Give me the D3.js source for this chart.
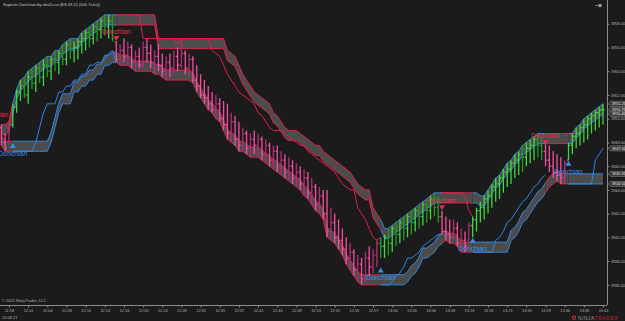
<!DOCTYPE html>
<html>
<head>
<meta charset="utf-8">
<script src="https://cdn.jsdelivr.net/npm/d3@7"></script>
<style>
  body { margin: 0; background: #1b1b1b; }
  svg { display: block; font-family: Arial, "Liberation Sans", sans-serif; }
</style>
</head>
<body>
<svg id="chart"></svg>
<script>
// ES 09-21, 500 tick bars
const open = [
  3949.25, 3948.00, 3948.00, 3949.50, 3951.00, 3952.25, 3952.75, 3952.00, 3953.50, 3953.00,
  3954.25, 3953.50, 3954.50, 3954.00, 3955.00, 3954.75, 3955.50, 3955.00, 3956.25, 3955.75,
  3956.00, 3956.50, 3956.75, 3957.25, 3956.75, 3957.75, 3957.50, 3958.25, 3957.75, 3958.25,
  3956.50, 3955.00, 3955.75, 3955.25, 3956.00, 3954.75, 3955.25, 3954.50, 3956.00, 3955.50,
  3954.75, 3955.25, 3954.50, 3954.00, 3954.75, 3954.25, 3955.25, 3954.50, 3955.50, 3954.25,
  3955.00, 3953.25, 3952.75, 3952.00, 3951.75, 3951.25, 3950.75, 3951.25, 3950.00, 3949.50,
  3948.75, 3949.75, 3948.25, 3947.75, 3948.75, 3947.50, 3948.25, 3947.75, 3948.25, 3947.00,
  3947.75, 3946.50, 3947.25, 3946.00, 3946.50, 3945.50, 3946.00, 3945.00, 3945.50, 3944.50,
  3945.00, 3943.75, 3944.25, 3942.75, 3943.50, 3942.00, 3940.50, 3941.25, 3940.00, 3939.75,
  3939.00, 3938.25, 3938.75, 3937.25, 3937.75, 3936.50, 3938.25, 3937.50, 3938.50, 3939.50,
  3939.25, 3940.00, 3939.50, 3940.75, 3940.25, 3941.25, 3940.75, 3941.75, 3941.25, 3942.25,
  3941.75, 3942.75, 3942.25, 3943.25, 3942.50, 3941.75, 3940.50, 3940.25, 3940.00, 3940.75,
  3939.50, 3939.75, 3939.75, 3941.00, 3941.50, 3942.25, 3942.50, 3943.25, 3943.50, 3944.25,
  3944.50, 3945.00, 3945.50, 3945.75, 3946.25, 3946.50, 3947.00, 3946.75, 3947.50, 3947.75,
  3948.25, 3947.75, 3947.25, 3946.50, 3946.00, 3945.50, 3945.25, 3945.00, 3946.50, 3947.75,
  3948.50, 3948.75, 3949.25, 3949.50, 3950.00, 3950.25, 3950.50, 3950.75
]
const high = [
  3949.50, 3948.75, 3949.75, 3951.25, 3952.50, 3953.25, 3953.50, 3954.00, 3954.25, 3954.50,
  3954.75, 3955.00, 3955.25, 3955.25, 3955.75, 3955.75, 3956.25, 3956.50, 3956.75, 3956.50,
  3956.75, 3957.25, 3957.50, 3957.75, 3958.00, 3958.25, 3958.50, 3958.75, 3958.75, 3958.75,
  3956.50, 3956.25, 3956.75, 3956.50, 3956.25, 3955.75, 3956.00, 3956.50, 3956.75, 3956.25,
  3955.75, 3956.25, 3955.50, 3955.25, 3955.50, 3955.75, 3956.00, 3956.75, 3955.75, 3955.50,
  3955.25, 3954.50, 3953.75, 3953.25, 3952.75, 3952.25, 3952.00, 3951.75, 3951.50, 3951.25,
  3950.50, 3950.25, 3949.75, 3949.25, 3949.00, 3948.75, 3949.00, 3948.75, 3948.50, 3948.25,
  3948.00, 3947.75, 3947.75, 3947.25, 3947.00, 3946.75, 3946.50, 3946.25, 3946.00, 3945.75,
  3945.50, 3945.00, 3944.50, 3944.25, 3944.00, 3944.00, 3942.50, 3942.00, 3941.50, 3940.75,
  3940.00, 3939.50, 3939.00, 3938.50, 3938.25, 3938.75, 3939.25, 3939.00, 3939.75, 3940.00,
  3940.25, 3940.75, 3941.00, 3941.25, 3941.50, 3941.75, 3942.00, 3942.25, 3942.50, 3942.75,
  3943.00, 3943.25, 3943.50, 3943.75, 3943.50, 3942.25, 3941.75, 3941.50, 3941.50, 3941.25,
  3940.75, 3940.50, 3941.25, 3941.75, 3942.50, 3943.00, 3943.50, 3944.00, 3944.50, 3945.00,
  3945.25, 3945.75, 3946.25, 3946.50, 3947.00, 3947.25, 3947.75, 3948.00, 3948.25, 3948.50,
  3948.75, 3948.50, 3948.00, 3947.75, 3947.25, 3947.00, 3946.75, 3946.50, 3948.00, 3948.75,
  3949.25, 3949.50, 3950.00, 3950.25, 3950.50, 3950.75, 3951.00, 3951.25
]
const low = [
  3947.75, 3947.25, 3948.00, 3949.25, 3950.50, 3951.50, 3951.75, 3951.25, 3952.50, 3952.25,
  3953.00, 3952.75, 3953.50, 3953.25, 3954.00, 3953.75, 3954.50, 3954.50, 3955.00, 3954.75,
  3955.00, 3955.50, 3955.75, 3956.00, 3956.25, 3956.50, 3956.75, 3957.00, 3956.75, 3956.50,
  3954.75, 3954.50, 3954.75, 3954.50, 3954.25, 3954.00, 3954.25, 3954.25, 3954.75, 3954.25,
  3953.75, 3954.00, 3953.50, 3953.25, 3953.50, 3953.75, 3954.00, 3954.25, 3953.75, 3953.50,
  3953.00, 3952.25, 3951.75, 3951.25, 3950.75, 3950.50, 3950.00, 3949.75, 3949.00, 3948.25,
  3948.00, 3947.75, 3947.25, 3947.25, 3947.00, 3946.75, 3947.00, 3946.75, 3946.50, 3946.25,
  3946.00, 3945.75, 3945.50, 3945.25, 3945.00, 3944.75, 3944.50, 3944.25, 3944.00, 3943.50,
  3943.25, 3942.75, 3942.25, 3942.00, 3941.50, 3940.00, 3939.75, 3939.50, 3939.00, 3938.50,
  3937.75, 3937.25, 3936.75, 3936.25, 3936.00, 3936.25, 3936.75, 3937.00, 3937.50, 3938.25,
  3938.25, 3938.50, 3938.75, 3939.25, 3939.50, 3939.75, 3940.00, 3940.25, 3940.50, 3940.75,
  3941.00, 3941.25, 3941.50, 3941.75, 3941.25, 3940.25, 3939.75, 3939.50, 3939.75, 3939.25,
  3938.75, 3938.75, 3939.75, 3940.00, 3940.50, 3941.25, 3941.50, 3942.00, 3942.50, 3943.00,
  3943.25, 3943.75, 3944.25, 3944.50, 3945.00, 3945.25, 3945.50, 3946.00, 3946.25, 3946.50,
  3946.75, 3946.50, 3946.00, 3945.50, 3945.00, 3944.75, 3944.50, 3944.50, 3946.50, 3947.00,
  3947.50, 3947.75, 3948.00, 3948.25, 3948.75, 3949.00, 3949.25, 3949.50
]
const close = [
  3948.00, 3947.50, 3949.50, 3951.00, 3952.25, 3952.75, 3952.00, 3953.50, 3953.00, 3954.25,
  3953.50, 3954.50, 3954.00, 3955.00, 3954.75, 3955.50, 3955.00, 3956.25, 3955.75, 3956.00,
  3956.50, 3956.75, 3957.25, 3956.75, 3957.75, 3957.50, 3958.25, 3957.75, 3958.25, 3956.75,
  3955.00, 3955.75, 3955.25, 3956.00, 3954.75, 3955.25, 3954.50, 3956.00, 3955.50, 3954.75,
  3955.25, 3954.50, 3954.00, 3954.75, 3954.25, 3955.25, 3954.50, 3955.50, 3954.25, 3955.00,
  3953.25, 3952.75, 3952.00, 3951.75, 3951.25, 3950.75, 3951.25, 3950.00, 3949.50, 3948.75,
  3949.75, 3948.25, 3947.75, 3948.75, 3947.50, 3948.25, 3947.75, 3948.25, 3947.00, 3947.75,
  3946.50, 3947.25, 3946.00, 3946.50, 3945.50, 3946.00, 3945.00, 3945.50, 3944.50, 3945.00,
  3943.75, 3944.25, 3942.75, 3943.50, 3942.00, 3940.50, 3941.25, 3940.00, 3939.75, 3939.00,
  3938.25, 3938.75, 3937.25, 3937.75, 3936.50, 3938.25, 3937.50, 3938.50, 3939.50, 3939.25,
  3940.00, 3939.50, 3940.75, 3940.25, 3941.25, 3940.75, 3941.75, 3941.25, 3942.25, 3941.75,
  3942.75, 3942.25, 3943.25, 3942.50, 3941.75, 3940.50, 3940.25, 3940.00, 3940.75, 3939.50,
  3939.75, 3939.25, 3941.00, 3941.50, 3942.25, 3942.50, 3943.25, 3943.50, 3944.25, 3944.50,
  3945.00, 3945.50, 3945.75, 3946.25, 3946.50, 3947.00, 3946.75, 3947.50, 3947.75, 3948.25,
  3947.75, 3947.25, 3946.50, 3946.00, 3945.50, 3945.25, 3945.00, 3946.25, 3947.75, 3948.50,
  3948.75, 3949.25, 3949.50, 3950.00, 3950.25, 3950.50, 3950.75, 3950.75
]

// time axis labels, one every 5 bars starting at bar 2
const timeLabels = ['11:58', '12:01', '12:04', '12:08', '12:10', '12:14', '12:16', '12:20',
  '12:24', '12:28', '12:31', '12:35', '12:37', '12:41', '12:45', '12:49', '12:53', '12:55',
  '12:56', '12:57', '13:00', '13:03', '13:06', '13:09', '13:13', '13:18', '13:21', '13:26',
  '13:29', '13:34', '13:38', '13:43']
const firstTick = 2, tickEvery = 5

const priceTicks = [3936, 3938, 3940, 3942, 3944, 3946, 3948, 3950, 3952, 3954, 3956, 3958]

// trend flips (bar index, direction, price of the arrow)
const signals = [
  { bar: -2, dir: 'down', price: 3949.75 },
  { bar: 3, dir: 'up', price: 3947.75 },
  { bar: 30, dir: 'down', price: 3956.75 },
  { bar: 99, dir: 'up', price: 3937.25 },
  { bar: 115, dir: 'down', price: 3942.50 },
  { bar: 123, dir: 'up', price: 3939.75 },
  { bar: 142, dir: 'down', price: 3948.00 },
  { bar: 148, dir: 'up', price: 3946.25 }
]

const longLen = 12, shortLen = 8, bandWidth = 0.85

const w = 625, h = 321
const plotR = 607, plotB = 305
const colors = {
  up: { line: '#2f86e0', barUp: '#3fd63f', barDn: '#239a23', text: '#3a8ee6' },
  down: { line: '#e0204a', barUp: '#b02f72', barDn: '#f2509e', text: '#e8284e' }
}

const n = close.length
const x = d3.scaleLinear([0, n - 1], [1.3, 603])
const y = d3.scaleLinear([3934.3, 3960], [plotB, 0])

const trend = d3.range(n).map(i => {
  let t = 'down'
  signals.forEach(s => { if (s.bar <= i) t = s.dir })
  return t
})

function rolling(arr, len, fn) {
  return arr.map((d, i) => fn(arr.slice(Math.max(0, i - len + 1), i + 1)))
}
const upper = rolling(high, longLen, d3.max)
const lower = rolling(low, longLen, d3.min)
const fastHigh = rolling(high, shortLen, d3.max)
const fastLow = rolling(low, shortLen, d3.min)

// contiguous trend segments
const segments = []
trend.forEach((t, i) => {
  let last = segments[segments.length - 1]
  if (!last || last.dir !== t) segments.push({ dir: t, start: i, end: i })
  else last.end = i
})

const svg = d3.select('#chart').attr('width', w).attr('height', h)
svg.append('rect').attr('width', w).attr('height', h).attr('fill', '#1b1b1b')

svg.append('clipPath').attr('id', 'plot')
  .append('rect').attr('width', plotR).attr('height', plotB)

const plot = svg.append('g').attr('clip-path', 'url(#plot)')

const bandG = plot.append('g')
segments.forEach(seg => {
  let idx = d3.range(seg.start, Math.min(seg.end + 2, n))
  let c = colors[seg.dir].line

  let upArea = d3.area().x(i => x(i)).y0(i => y(upper[i] - bandWidth)).y1(i => y(upper[i]))
  let loArea = d3.area().x(i => x(i)).y0(i => y(lower[i])).y1(i => y(lower[i] + bandWidth))
  bandG.append('path').datum(idx).attr('d', upArea).attr('fill', '#4c4c4c')
  bandG.append('path').datum(idx).attr('d', loArea).attr('fill', '#4c4c4c')

  let edges = [
    i => y(upper[i]), i => y(upper[i] - bandWidth),
    i => y(lower[i]), i => y(lower[i] + bandWidth),
    seg.dir == 'up' ? i => y(fastLow[i]) : i => y(fastHigh[i])
  ]
  edges.forEach(fy => {
    bandG.append('path').datum(idx)
      .attr('d', d3.line().x(i => x(i)).y(fy))
      .attr('fill', 'none')
      .attr('stroke', c)
      .attr('stroke-width', 1)
  })
})

// OHLC bars
plot.append('g').selectAll('path')
  .data(d3.range(n))
  .join('path')
    .attr('d', i => {
      let cx = x(i)
      return `M${cx},${y(high[i])}V${y(low[i])}M${cx - 1.6},${y(open[i])}H${cx}M${cx},${y(close[i])}H${cx + 1.6}`
    })
    .attr('fill', 'none')
    .attr('stroke', i => close[i] >= open[i] ? colors[trend[i]].barUp : colors[trend[i]].barDn)
    .attr('stroke-width', 1.3)

// signal arrows + labels
const sig = plot.append('g').selectAll('g')
  .data(signals)
  .join('g')
    .attr('transform', d => `translate(${x(d.bar)},${y(d.price)})`)

sig.append('path')
  .attr('d', d => d.dir == 'up' ? 'M-3,2.5L0,-2.5L3,2.5Z' : 'M-3,-2.5L0,2.5L3,-2.5Z')
  .attr('fill', d => colors[d.dir].text)

sig.append('text')
  .attr('text-anchor', 'middle')
  .attr('y', d => d.dir == 'up' ? 10.5 : -4.5)
  .attr('font-size', 6.8)
  .attr('fill', d => colors[d.dir].text)
  .text('Donchian')

// axes frame
svg.append('line').attr('x1', 0).attr('x2', plotR).attr('y1', plotB + 0.5).attr('y2', plotB + 0.5)
  .attr('stroke', '#8c8c8c')
svg.append('line').attr('x1', plotR + 0.5).attr('x2', plotR + 0.5).attr('y1', 0).attr('y2', plotB)
  .attr('stroke', '#8c8c8c')

let yAxis = svg.append('g')
  .attr('transform', `translate(${plotR + 0.5},0)`)
  .call(d3.axisRight(y).tickValues(priceTicks).tickFormat(d3.format('.2f')).tickSize(2).tickPadding(1.5))
let xAxis = svg.append('g')
  .attr('transform', `translate(0,${plotB + 0.5})`)
  .call(d3.axisBottom(x)
    .tickValues(timeLabels.map((d, k) => firstTick + k * tickEvery))
    .tickFormat((d, k) => timeLabels[k])
    .tickSize(2).tickPadding(2))

;[yAxis, xAxis].forEach(a => {
  a.select('.domain').remove()
  a.selectAll('line').attr('stroke', '#8c8c8c')
  a.selectAll('text').attr('fill', '#b4b4b4').attr('font-size', 3.9)
})

// price markers for the last bar
const last = n - 1
const markers = [close[last], upper[last], upper[last] - bandWidth, fastLow[last],
  lower[last] + bandWidth, lower[last]]
const mk = svg.append('g').selectAll('g')
  .data(markers)
  .join('g')
    .attr('transform', d => `translate(${plotR + 1},${y(d)})`)
mk.append('path')
  .attr('d', 'M0,0L2.5,-2.6H17V2.6H2.5Z')
  .attr('fill', '#3a3a3a').attr('stroke', '#7a7a7a').attr('stroke-width', 0.6)
mk.append('text')
  .attr('x', 4).attr('y', 1.4)
  .attr('font-size', 3.8).attr('fill', '#e0e0e0')
  .text(d => d3.format('.2f')(d))

// texts
svg.append('text').attr('x', 3).attr('y', 6).attr('font-size', 4)
  .attr('fill', '#c8c8c8').text('Superior Donchian by sbsZu.co (ES 09-21 (500 Ticks))')
svg.append('text').attr('x', 2).attr('y', 302).attr('font-size', 4)
  .attr('fill', '#b0b0b0').text('© 2021 NinjaTrader, LLC')
svg.append('text').attr('x', 2).attr('y', 318.5).attr('font-size', 4)
  .attr('fill', '#b0b0b0').text('13.08.21')
svg.append('text').attr('x', 598).attr('y', 8).attr('font-size', 8)
  .attr('fill', '#c8c8c8').attr('text-anchor', 'middle').text('⇥')

let logo = svg.append('text').attr('x', 578).attr('y', 319.5).attr('font-size', 5)
  .attr('letter-spacing', 0.5)
logo.append('tspan').attr('fill', '#9a9a9a').text('NINJA')
logo.append('tspan').attr('fill', '#c0283c').text('TRADER')
svg.append('circle').attr('cx', 574).attr('cy', 317.8).attr('r', 2.2).attr('fill', '#c0283c')
svg.append('circle').attr('cx', 574).attr('cy', 317.8).attr('r', 1).attr('fill', '#1b1b1b')
</script>
</body>
</html>
